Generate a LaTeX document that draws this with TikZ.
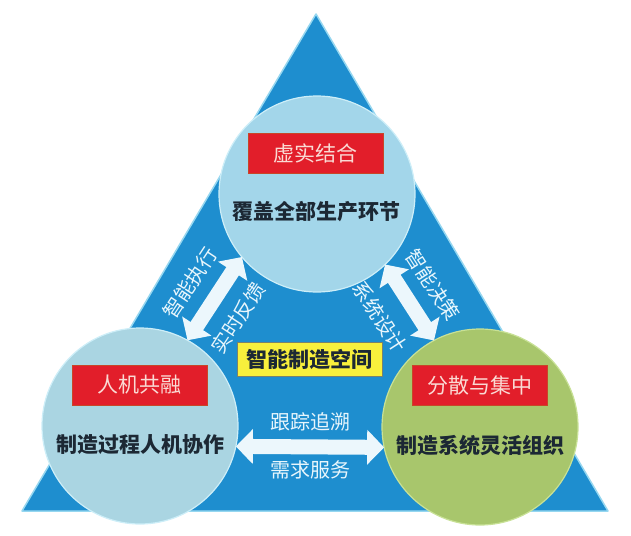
\documentclass[tikz,border=0pt]{standalone}
\usepackage{fontspec}
\newfontfamily\cjk{Noto Sans CJK SC}
\usetikzlibrary{arrows.meta}
\definecolor{tri}{RGB}{30,142,207}
\definecolor{triedge}{RGB}{150,215,240}
\definecolor{cblue}{RGB}{163,214,234}
\definecolor{cblueL}{RGB}{170,213,226}
\definecolor{cedge}{RGB}{205,238,248}
\definecolor{cgreen}{RGB}{168,198,108}
\definecolor{gedge}{RGB}{200,225,150}
\definecolor{cred}{RGB}{226,30,42}
\definecolor{credge}{RGB}{200,70,40}
\definecolor{cpink}{RGB}{250,218,212}
\definecolor{darktext}{RGB}{28,40,52}
\definecolor{cyellow}{RGB}{248,240,60}
\definecolor{yedge}{RGB}{120,130,110}
\definecolor{carrow}{RGB}{236,247,252}
\definecolor{lbl}{RGB}{232,246,252}
\begin{document}
\begin{tikzpicture}[x=1pt,y=-1pt,
  circ/.style={circle, minimum size=196pt, inner sep=0pt, outer sep=0pt, line width=1.2pt},
  redbox/.style={fill=cred, draw=credge, line width=0.8pt, minimum width=135pt, minimum height=40pt,
    inner sep=0pt, text=cpink, font=\cjk\fontsize{21}{21}\selectfont},
  maintext/.style={text=darktext, inner sep=0pt, font=\cjk\bfseries\fontsize{21}{21}\selectfont},
  lbltext/.style={text=lbl, inner sep=0pt, font=\cjk\fontsize{20}{20}\selectfont},
  bigarrow/.style={draw=carrow, line width=15pt, {Triangle[length=17pt,width=34pt]}-{Triangle[length=17pt,width=34pt]}},
  ybox/.style={fill=cyellow, draw=yedge, line width=0.8pt, minimum width=145pt, minimum height=34pt,
    inner sep=0pt, text=darktext, font=\cjk\bfseries\fontsize{21}{21}\selectfont}
]
\useasboundingbox (0,0) rectangle (631,535);
\fill[white] (0,0) rectangle (631,535);
\coordinate (A) at (316,14);
\coordinate (B) at (22,511);
\coordinate (C) at (608,511);
\draw[fill=tri, draw=triedge, line width=1.5pt, line join=round] (A) -- (B) -- (C) -- cycle;

\node[circ, fill=cblue, draw=cedge] (T) at (317,194) {};
\node[circ, fill=cblueL, draw=cedge] (L) at (140,426) {};
\node[circ, fill=cgreen, draw=gedge] (R) at (480,427) {};

\node[redbox] (Tb) at (315.5,153) {虚实结合};
\node[redbox] (Lb) at (139.5,385) {人机共融};
\node[redbox] (Rb) at (480,385.5) {分散与集中};

\node[maintext] (Tt) at (316,212) {覆盖全部生产环节};
\node[maintext] (Lt) at (140,445) {制造过程人机协作};
\node[maintext] (Rt) at (480,445) {制造系统灵活组织};

\node[ybox] (Y) at (309.5,359) {智能制造空间};

\draw[bigarrow] (T.220) -- (L.61);
\draw[bigarrow] (T.314) -- (R.118);
\draw[bigarrow] (L.-12) -- (R.192);

\node[lbltext, rotate=56.7] (l1) at (190,283) {智能执行};
\node[lbltext, rotate=56.7] (l2) at (238,318) {实时反馈};
\node[lbltext, rotate=-57.2] (l3) at (433,285) {智能决策};
\node[lbltext, rotate=-57.2] (l4) at (380,317) {系统设计};
\node[lbltext] (l5) at (310,422) {跟踪追溯};
\node[lbltext] (l6) at (310,470) {需求服务};
\end{tikzpicture}
\end{document}
